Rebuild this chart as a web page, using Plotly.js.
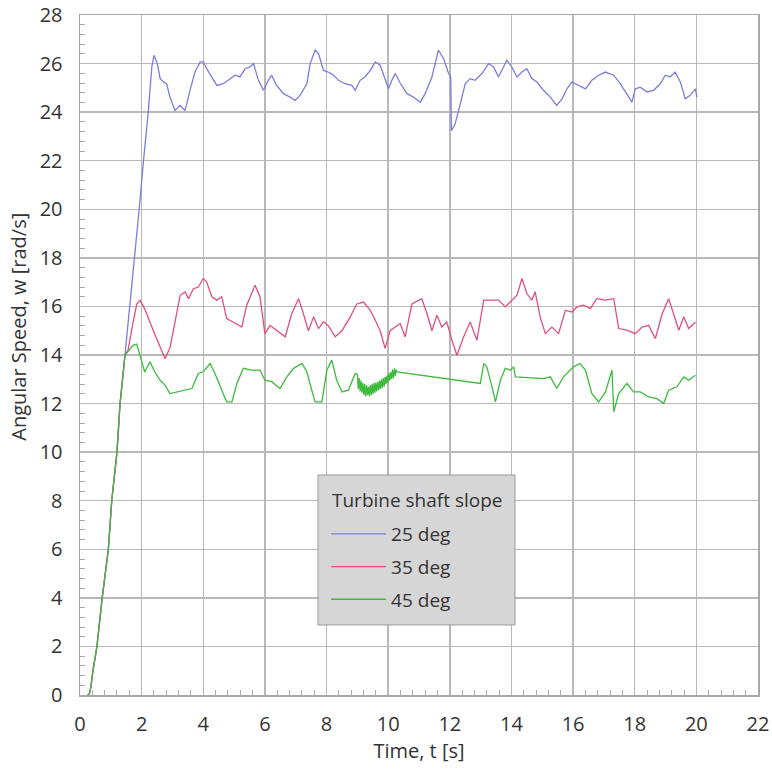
<!DOCTYPE html>
<html>
<head>
<meta charset="utf-8">
<script src="https://cdn.plot.ly/plotly-3.0.1.min.js"></script>
<style>html,body{margin:0;padding:0;background:#fff;}#chart{width:772px;height:770px;}</style>
</head>
<body>
<div id="chart"></div>
<script>
// Shared start-up ramp (all three slopes overlap here)
var rampT = [0.25, 0.3, 0.35, 0.42, 0.55, 0.72, 0.92, 1.03, 1.2, 1.3, 1.46];
var rampW = [0.0, 0.05, 0.3, 1.0, 2.0, 4.0, 6.0, 8.0, 10.0, 12.0, 14.0];

// 25 deg
var t25 = [1.62, 1.76, 1.92, 2.06, 2.22, 2.33, 2.4, 2.51, 2.6, 2.71, 2.81, 2.92, 3.08, 3.25, 3.41, 3.57, 3.73, 3.9, 4.0, 4.11, 4.28, 4.44, 4.65, 4.87, 5.03, 5.19, 5.36, 5.52, 5.63, 5.79, 5.95, 6.11, 6.22, 6.38, 6.6, 6.82, 6.98, 7.14, 7.36, 7.47, 7.63, 7.74, 7.9, 8.06, 8.23, 8.39, 8.6, 8.82, 8.93, 9.09, 9.25, 9.42, 9.58, 9.74, 9.9, 10.01, 10.12, 10.23, 10.39, 10.61, 10.82, 11.04, 11.2, 11.42, 11.63, 11.8, 11.96, 12.03, 12.05, 12.17, 12.34, 12.5, 12.66, 12.82, 13.04, 13.26, 13.42, 13.58, 13.85, 14.01, 14.18, 14.34, 14.5, 14.66, 14.83, 15.04, 15.26, 15.47, 15.64, 15.8, 15.96, 16.18, 16.4, 16.61, 16.83, 17.05, 17.32, 17.53, 17.75, 17.91, 18.02, 18.18, 18.4, 18.61, 18.83, 18.99, 19.15, 19.31, 19.48, 19.64, 19.8, 19.97, 20.02];
var w25 = [16.0, 18.0, 20.0, 22.0, 24.08, 25.86, 26.34, 26.0, 25.38, 25.24, 25.17, 24.62, 24.07, 24.28, 24.07, 24.9, 25.65, 26.07, 26.07, 25.79, 25.45, 25.1, 25.17, 25.38, 25.52, 25.45, 25.79, 25.86, 26.0, 25.31, 24.9, 25.31, 25.52, 25.1, 24.76, 24.62, 24.48, 24.69, 25.17, 26.0, 26.55, 26.41, 25.72, 25.65, 25.52, 25.31, 25.17, 25.1, 24.9, 25.31, 25.45, 25.72, 26.07, 25.93, 25.31, 24.96, 25.31, 25.59, 25.2, 24.76, 24.62, 24.41, 24.76, 25.45, 26.55, 26.2, 25.59, 25.45, 23.24, 23.51, 24.34, 25.17, 25.38, 25.31, 25.59, 26.0, 25.86, 25.45, 26.14, 25.86, 25.45, 25.65, 25.79, 25.38, 25.24, 24.9, 24.62, 24.28, 24.55, 24.96, 25.24, 25.1, 24.96, 25.31, 25.52, 25.65, 25.52, 25.17, 24.76, 24.41, 24.96, 25.03, 24.83, 24.9, 25.17, 25.52, 25.45, 25.65, 25.24, 24.55, 24.69, 24.96, 24.62];

// 35 deg
var t35 = [1.56, 1.7, 1.84, 1.95, 2.1, 2.38, 2.6, 2.76, 2.92, 3.08, 3.25, 3.41, 3.52, 3.68, 3.84, 4.0, 4.11, 4.28, 4.44, 4.6, 4.76, 4.98, 5.25, 5.41, 5.68, 5.84, 6.0, 6.17, 6.4, 6.66, 6.87, 7.09, 7.25, 7.41, 7.58, 7.74, 7.9, 8.06, 8.28, 8.5, 8.77, 8.98, 9.2, 9.42, 9.58, 9.74, 9.9, 10.06, 10.23, 10.39, 10.55, 10.77, 11.09, 11.26, 11.42, 11.58, 11.74, 11.9, 12.07, 12.23, 12.45, 12.66, 12.88, 13.1, 13.36, 13.58, 13.8, 14.01, 14.18, 14.34, 14.5, 14.66, 14.77, 14.93, 15.1, 15.31, 15.53, 15.75, 15.96, 16.13, 16.34, 16.56, 16.77, 17.04, 17.32, 17.48, 17.75, 18.02, 18.24, 18.45, 18.67, 18.89, 19.1, 19.26, 19.43, 19.59, 19.75, 19.97];
var w35 = [14.2, 15.2, 16.1, 16.25, 15.9, 15.0, 14.3, 13.85, 14.3, 15.4, 16.46, 16.6, 16.32, 16.73, 16.8, 17.15, 17.0, 16.4, 16.26, 16.4, 15.5, 15.35, 15.15, 16.05, 16.87, 16.4, 14.88, 15.22, 15.0, 14.75, 15.7, 16.32, 15.7, 15.0, 15.57, 15.09, 15.37, 15.2, 14.75, 15.0, 15.57, 16.1, 16.18, 15.84, 15.43, 15.0, 14.27, 15.0, 15.15, 15.3, 14.75, 16.1, 16.32, 15.7, 15.0, 15.64, 15.15, 15.36, 14.61, 13.99, 14.75, 15.36, 14.61, 16.26, 16.26, 16.26, 15.98, 16.26, 16.46, 17.15, 16.53, 16.26, 16.6, 15.57, 14.88, 15.15, 14.88, 15.84, 15.77, 15.98, 16.05, 15.91, 16.32, 16.26, 16.32, 15.09, 15.02, 14.88, 15.15, 15.22, 14.68, 15.7, 16.32, 15.7, 15.02, 15.57, 15.09, 15.36];

// 45 deg
var t45 = [1.6, 1.72, 1.84, 2.0, 2.1, 2.27, 2.43, 2.6, 2.76, 2.92, 3.14, 3.41, 3.63, 3.84, 4.0, 4.22, 4.38, 4.6, 4.76, 4.93, 5.09, 5.3, 5.57, 5.84, 6.0, 6.22, 6.49, 6.71, 6.93, 7.2, 7.36, 7.52, 7.63, 7.85, 8.01, 8.17, 8.33, 8.5, 8.71, 8.93, 9.0, 9.03, 9.06, 9.09, 9.12, 9.15, 9.18, 9.21, 9.24, 9.27, 9.3, 9.33, 9.36, 9.39, 9.42, 9.45, 9.48, 9.51, 9.54, 9.57, 9.6, 9.63, 9.66, 9.69, 9.72, 9.75, 9.78, 9.81, 9.84, 9.87, 9.9, 9.93, 9.96, 9.99, 10.02, 10.05, 10.08, 10.11, 10.14, 10.17, 10.2, 10.23, 10.26, 10.29, 12.07, 12.99, 13.1, 13.2, 13.37, 13.48, 13.64, 13.8, 13.97, 14.07, 14.13, 15.04, 15.26, 15.47, 15.69, 16.01, 16.23, 16.4, 16.61, 16.83, 17.05, 17.26, 17.32, 17.48, 17.75, 17.96, 18.18, 18.45, 18.72, 18.94, 19.1, 19.37, 19.59, 19.75, 19.97];
var w45 = [14.2, 14.4, 14.45, 13.8, 13.3, 13.72, 13.3, 12.96, 12.76, 12.41, 12.48, 12.55, 12.62, 13.24, 13.31, 13.65, 13.24, 12.55, 12.07, 12.07, 12.83, 13.45, 13.38, 13.38, 12.96, 12.9, 12.62, 13.1, 13.45, 13.65, 13.31, 12.55, 12.07, 12.07, 13.38, 13.79, 12.96, 12.48, 12.55, 13.24, 13.2, 12.6, 13.05, 12.5, 12.95, 12.45, 12.85, 12.35, 12.8, 12.3, 12.75, 12.35, 12.7, 12.3, 12.75, 12.35, 12.8, 12.4, 12.85, 12.45, 12.85, 12.5, 12.9, 12.55, 12.95, 12.6, 13.0, 12.65, 13.05, 12.7, 13.1, 12.8, 13.15, 12.85, 13.25, 12.95, 13.3, 13.0, 13.4, 13.05, 13.45, 13.15, 13.4, 13.3, 13.0, 12.83, 13.65, 13.51, 12.69, 12.07, 12.96, 13.45, 13.38, 13.51, 13.1, 13.03, 13.1, 12.62, 13.1, 13.51, 13.65, 13.38, 12.41, 12.07, 12.48, 13.38, 11.66, 12.41, 12.83, 12.48, 12.48, 12.27, 12.2, 12.0, 12.55, 12.69, 13.1, 12.96, 13.17];

var seriesNames = ['25 deg', '35 deg', '45 deg'];
var seriesColors = ['#7c7ce0', '#e0507f', '#3dbb3d'];
var legendTitle = 'Turbine shaft slope';
var xTitle = 'Time, t [s]';
var yTitle = 'Angular Speed, w [rad/s]';

var allT = [t25, t35, t45];
var allW = [w25, w35, w45];
var traces = allT.map(function (t, i) {
  return {
    x: rampT.concat(t), y: rampW.concat(allW[i]),
    type: 'scatter', mode: 'lines', name: seriesNames[i],
    legendgroup: 'g' + i,
    line: {color: seriesColors[i], width: 1.3}
  };
});

var fontFam = '"Open Sans", "Noto Sans", sans-serif';
var layout = {
  width: 772, height: 770,
  margin: {l: 80, r: 14, t: 15, b: 75},
  paper_bgcolor: '#ffffff', plot_bgcolor: '#ffffff',
  font: {family: fontFam, color: '#333333'},
  showlegend: true,
  legend: {
    x: 0.363, y: 0.2647, xanchor: 'left', yanchor: 'top',
    bgcolor: 'rgba(0,0,0,0)', borderwidth: 0,
    font: {size: 19, color: '#333333', family: fontFam},
    traceorder: 'grouped', tracegroupgap: 5, itemwidth: 55
  },
  shapes: [{
    type: 'rect', xref: 'paper', yref: 'paper',
    x0: 0.351, x1: 0.6416, y0: 0.103, y1: 0.3235,
    fillcolor: '#d6d6d6', line: {color: '#9a9a9a', width: 1}, layer: 'above'
  }],
  xaxis: {
    range: [0, 22], dtick: 2, tick0: 0,
    showgrid: true, gridcolor: '#b8b8b8', gridwidth: 1.5,
    showline: true, linecolor: '#a8a8a8', linewidth: 1.5, mirror: true,
    zeroline: false, ticks: '',
    minor: {dtick: 0.4, ticks: 'inside', ticklen: 5, tickcolor: '#aaaaaa', tickwidth: 1, showgrid: false},
    tickfont: {size: 20, color: '#333333'},
    ticklabelstandoff: 10,
    title: {text: xTitle, font: {size: 20, color: '#333333'}, standoff: 8}
  },
  yaxis: {
    range: [0, 28], dtick: 2, tick0: 0,
    showgrid: true, gridcolor: '#b8b8b8', gridwidth: 1.5,
    showline: true, linecolor: '#a8a8a8', linewidth: 1.5, mirror: true,
    zeroline: false, ticks: '',
    minor: {dtick: 0.4, ticks: 'inside', ticklen: 5, tickcolor: '#aaaaaa', tickwidth: 1, showgrid: false},
    tickfont: {size: 20, color: '#333333'},
    ticklabelstandoff: 12
  },
  annotations: [{
    text: yTitle, xref: 'paper', yref: 'paper', x: -0.092, y: 0.541,
    xanchor: 'center', yanchor: 'middle', textangle: -90, showarrow: false,
    font: {size: 20, color: '#333333', family: fontFam}
  }, {
    text: legendTitle, xref: 'paper', yref: 'paper',
    x: (417 - 80) / 678, y: (695 - 500) / 680,
    xanchor: 'center', yanchor: 'middle', showarrow: false,
    font: {size: 19, color: '#333333', family: fontFam}
  }]
};

Plotly.newPlot('chart', traces, layout, {displayModeBar: false, staticPlot: true});
</script>
</body>
</html>
